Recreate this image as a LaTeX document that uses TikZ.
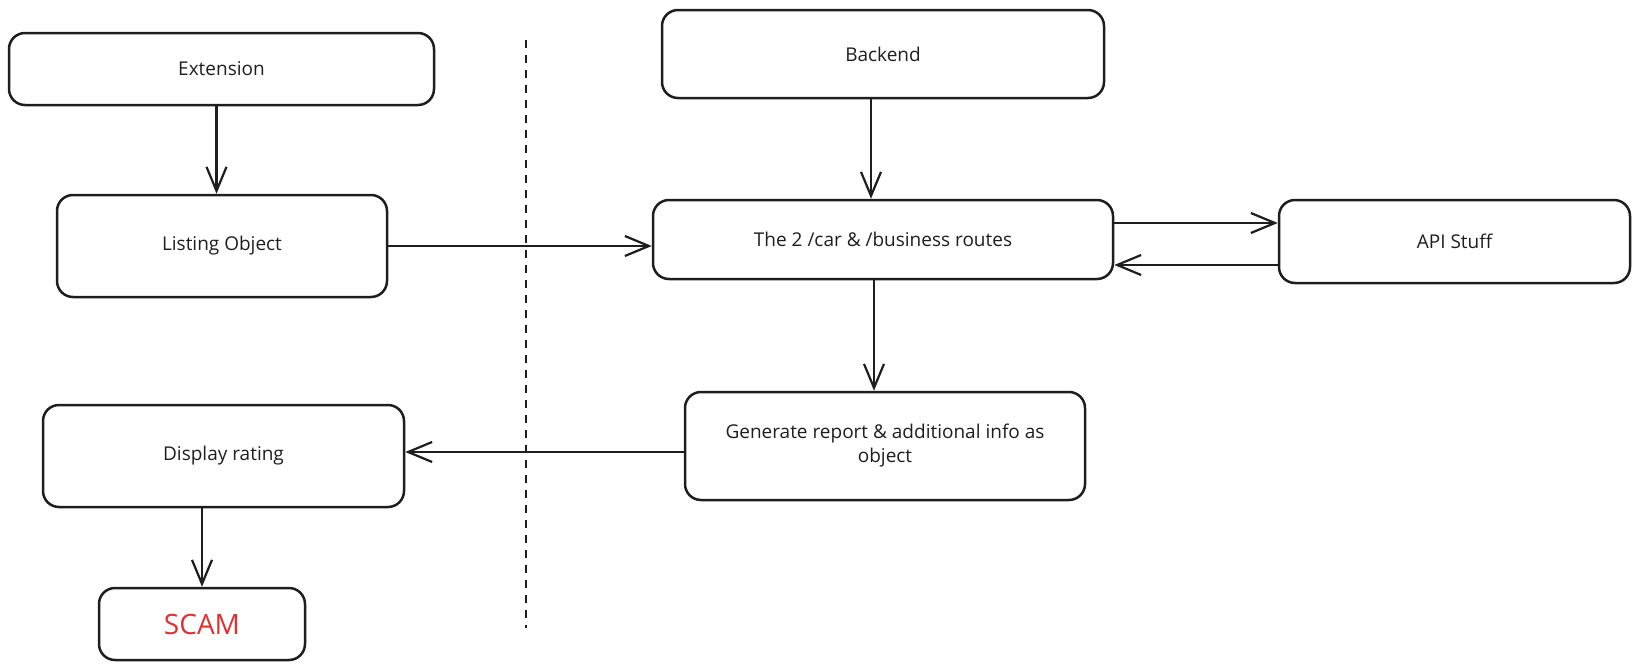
\documentclass[tikz,border=0pt]{standalone}
\usepackage{fontspec}
\setmainfont{Open Sans}
\usetikzlibrary{arrows.meta}
\definecolor{ink}{HTML}{1E1E1E}
\definecolor{scamred}{HTML}{E03131}
\tikzset{
  box/.style={draw=ink, line width=1.25pt, rounded corners=8pt, align=center,
    text=ink, font=\fontsize{9.5pt}{12pt}\selectfont, inner sep=0pt},
  arr/.style={draw=ink, line width=1.25pt, -{Straight Barb[length=12pt,width=10pt,line width=1.1pt]}},
}
\begin{document}
\begin{tikzpicture}[x=0.5pt,y=-0.5pt]
\useasboundingbox (0,0) rectangle (1640,669);
\node[box, minimum width=212.5pt, minimum height=36pt] (ext) at (221.5,69) {Extension};
\node[box, minimum width=165pt, minimum height=51pt] (list) at (222,246) {Listing Object};
\node[box, minimum width=221pt, minimum height=44pt] (back) at (883,54) {Backend};
\node[box, minimum width=230pt, minimum height=39.5pt] (routes) at (883,239.5) {The 2 /car \& /business routes};
\node[box, minimum width=175.5pt, minimum height=41.5pt] (api) at (1454.5,241.5) {API Stuff};
\node[box, minimum width=200pt, minimum height=54pt] (gen) at (885,446) {Generate report \& additional info as\\object};
\node[box, minimum width=180.5pt, minimum height=51pt] (disp) at (223.5,456) {Display rating};
\node[box, minimum width=103pt, minimum height=36pt, text=scamred, font=\fontsize{14pt}{16pt}\selectfont] (scam) at (202,624) {SCAM};
\coordinate (dtop) at (526,40);
\coordinate (dbot) at (526,628);
\draw[ink, line width=1pt, dash pattern=on 4pt off 3.5pt] (dtop) -- (dbot);
\draw[arr] ([xshift=-2.5pt]ext.south) -- ([xshift=-2.5pt]ext.south |- list.north);
\draw[arr] ([xshift=-6pt]back.south) -- ([xshift=-6pt]back.south |- routes.north);
\draw[arr] (list.east) -- (list.east -| routes.west);
\draw[arr] ([yshift=8.25pt]routes.east) -- ([yshift=8.25pt]routes.east -| api.west);
\draw[arr] ([yshift=-11.75pt]api.west) -- ([yshift=-11.75pt]api.west -| routes.east);
\draw[arr] ([xshift=-4.5pt]routes.south) -- ([xshift=-4.5pt]routes.south |- gen.north);
\draw[arr] ([yshift=-3pt]gen.west) -- ([yshift=-3pt]gen.west -| disp.east);
\draw[arr] (disp.south -| scam.north) -- (scam.north);
\end{tikzpicture}
\end{document}
